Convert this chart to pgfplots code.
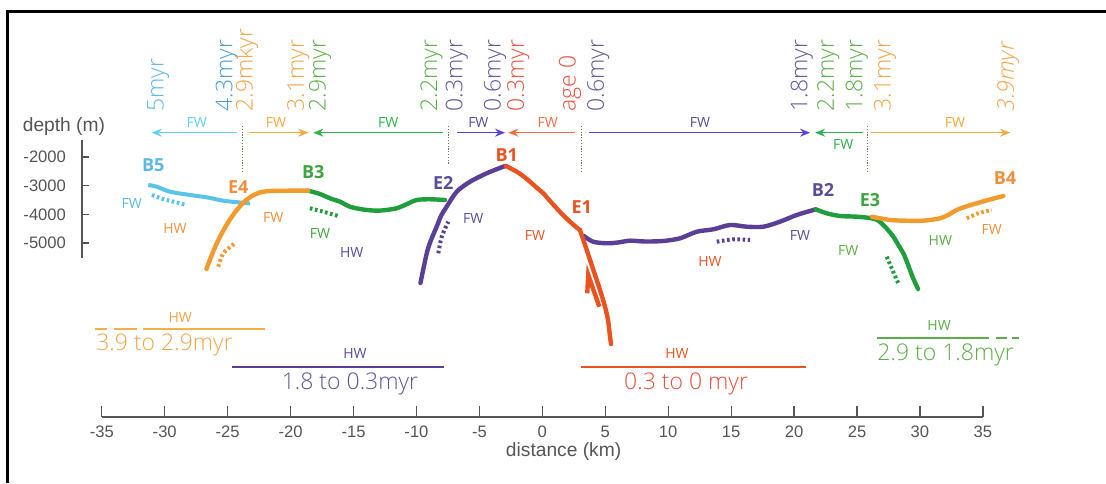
\documentclass[border=0pt]{standalone}
\usepackage{pgfplots}
\pgfplotsset{compat=1.18}
\usepackage{fontspec}
\setmainfont{Open Sans}
\newfontfamily\helv{Liberation Sans}
\IfFontExistsTF{Open Sans Light}{\newfontfamily\lt{Open Sans Light}}{\newfontfamily\lt{Open Sans}}
\usetikzlibrary{arrows.meta}
\definecolor{cLB}{HTML}{5BC2EA}
\definecolor{cLBt}{HTML}{5CB9E3}
\definecolor{cBlu}{HTML}{4B9CD3}
\definecolor{cOr}{HTML}{F39A2C}
\definecolor{cOrT}{HTML}{F2A446}
\definecolor{cOrL}{HTML}{F5B04A}
\definecolor{cOrB}{HTML}{F08F3A}
\definecolor{cGr}{HTML}{1F9E3B}
\definecolor{cGrT}{HTML}{5AAE47}
\definecolor{cGrB}{HTML}{3FA33F}
\definecolor{cPu}{HTML}{5A3F97}
\definecolor{cPuT}{HTML}{5F5599}
\definecolor{cPuB}{HTML}{5B4C9B}
\definecolor{cRe}{HTML}{E9531F}
\definecolor{cReT}{HTML}{E9503C}
\definecolor{aCy}{HTML}{62D0F2}
\definecolor{aOr}{HTML}{F7A93B}
\definecolor{aGr}{HTML}{2DB34B}
\definecolor{aPu}{HTML}{5B3FE3}
\definecolor{aRe}{HTML}{F36E40}
\definecolor{cDot}{HTML}{8C6E57}
\definecolor{cAx}{HTML}{555555}
\newcommand{\sm}{\fontsize{7}{8}\selectfont}
\newcommand{\bl}{\fontsize{9}{10}\selectfont\bfseries}
\newcommand{\rt}{\lt\fontsize{11.5}{13}\selectfont}
\begin{document}
\begin{tikzpicture}
\useasboundingbox (0,0) rectangle (553pt,241.5pt);
\begin{axis}[scale only axis, width=553pt, height=241.5pt,
  xmin=-43.04, xmax=44.82, ymin=-13371, ymax=3476, hide axis, clip=false,
  hatch/.style={line width=2pt, dash pattern=on 1.3pt off 1.3pt, smooth},
  prof/.style={line width=2.2pt, smooth, line cap=round},
  arr/.style={line width=0.7pt, -{Stealth[length=5pt,width=4pt]}},
  dotl/.style={cDot, line width=0.6pt, dash pattern=on 0.6pt off 0.8pt}]
% frame
\addplot[black, line width=1.5pt, line join=miter] coordinates {(-42.41,-13371) (-42.41,3092) (44.82,3092)};
% profiles
\addplot[cLB, line width=2pt, smooth] coordinates {(-31.26,-2977) (-30.59,-3036) (-29.54,-3210) (-27.95,-3325) (-26.62,-3406) (-25.30,-3524) (-23.84,-3594) (-23.18,-3622)};
\addplot[cPu, prof] coordinates {(-9.64,-6395) (-9.14,-5359) (-8.80,-4895) (-8.35,-4431) (-8.01,-4058) (-7.56,-3734) (-6.76,-3210) (-5.70,-2862) (-4.38,-2569) (-3.06,-2338) (-2.84,-2314)};
\addplot[cPu, prof] coordinates {(3.35,-4756) (4.07,-4954) (5.16,-5010) (6.05,-4982) (7.01,-4919) (8.20,-4947) (9.63,-4930) (10.98,-4836) (12.31,-4606) (13.63,-4522) (14.95,-4372) (16.28,-4431) (17.60,-4431) (18.92,-4257) (20.25,-4023) (21.57,-3849) (21.76,-3824)};
\addplot[cGr, prof] coordinates {(-18.55,-3175) (-17.62,-3291) (-16.83,-3441) (-16.03,-3559) (-15.24,-3734) (-14.21,-3831) (-13.12,-3873) (-12.38,-3849) (-11.53,-3789) (-10.79,-3657) (-9.94,-3500) (-8.88,-3475) (-7.69,-3500)};
\addplot[cOr, prof] coordinates {(-26.64,-5907) (-26.28,-5488) (-25.88,-5069) (-25.41,-4651) (-24.85,-4232) (-24.29,-3884) (-23.66,-3570) (-23.02,-3360) (-22.39,-3238) (-21.59,-3186) (-20.00,-3175) (-18.55,-3175)};
\addplot[cGr, prof] coordinates {(21.76,-3824) (22.63,-3964) (23.69,-4058) (25.02,-4082) (26.21,-4138) (26.71,-4215) (27.13,-4372) (27.50,-4546) (27.93,-4780) (28.30,-5052) (28.72,-5359) (29.01,-5662) (29.25,-5941) (29.49,-6220) (29.89,-6604)};
\addplot[cOr, prof] coordinates {(26.21,-4082) (27.66,-4197) (28.93,-4222) (30.31,-4222) (31.64,-4138) (32.27,-4023) (32.96,-3849) (33.70,-3727) (34.55,-3615) (35.61,-3482) (36.66,-3360)};
\addplot[cRe, prof] coordinates {(-2.84,-2314) (-1.99,-2513) (-1.49,-2663) (-0.94,-2862) (-0.38,-3081) (0.12,-3266) (0.65,-3535) (1.18,-3789) (1.68,-4023) (2.24,-4257) (2.72,-4442) (3.03,-4546)};
\addplot[cRe, prof] coordinates {(3.03,-4546) (3.57,-5244) (3.91,-5697) (4.36,-6290) (4.70,-6744) (5.02,-7221) (5.26,-7685) (5.42,-8268) (5.50,-8523)};
\addplot[cRe, line width=2.2pt, line join=miter] coordinates {(4.57,-7221) (3.69,-6116) (3.61,-6754)};
% hatches
\addplot[cLB, hatch] coordinates {(-30.97,-3325) (-30.09,-3465) (-29.14,-3570) (-28.27,-3674)};
\addplot[cOr, hatch] coordinates {(-25.70,-5826) (-25.30,-5359) (-24.37,-5010)};
\addplot[cGr, hatch] coordinates {(-18.42,-3789) (-17.36,-3908) (-16.17,-4058)};
\addplot[cPu, hatch] coordinates {(-8.22,-5359) (-7.95,-4780) (-7.43,-4257)};
\addplot[cPu, hatch] coordinates {(13.90,-4954) (15.21,-4871) (16.54,-4895)};
\addplot[cGr, hatch] coordinates {(27.40,-5478) (27.80,-5882) (28.32,-6405)};
\addplot[cOr, hatch] coordinates {(33.76,-4138) (34.68,-3964) (35.74,-3849)};
% top arrows
\addplot[aCy, arr] coordinates {(-24.24,-1152) (-30.99,-1152)};
\addplot[aOr, arr] coordinates {(-23.24,-1152) (-18.55,-1152)};
\addplot[aGr, arr] coordinates {(-7.83,-1152) (-18.15,-1152)};
\addplot[aPu, arr] coordinates {(-6.76,-1152) (-2.92,-1152)};
\addplot[aRe, arr] coordinates {(2.64,-1152) (-2.66,-1152)};
\addplot[aPu, arr] coordinates {(3.75,-1152) (21.31,-1152)};
\addplot[aGr, arr] coordinates {(25.54,-1152) (21.71,-1152)};
\addplot[aOr, arr] coordinates {(26.13,-1152) (37.20,-1152)};
% dotted verticals
\addplot[dotl] coordinates {(-23.79,-919) (-23.79,-2513)};
\addplot[dotl] coordinates {(-7.43,-919) (-7.43,-2279)};
\addplot[dotl] coordinates {(3.17,-919) (3.17,-2513)};
\addplot[dotl] coordinates {(25.86,-919) (25.86,-2513)};
% HW bars
\addplot[cOrL, line width=0.9pt] coordinates {(-31.68,-7999) (-21.99,-7999)};
\addplot[cOrL, line width=0.9pt] coordinates {(-35.53,-7999) (-34.54,-7999)};
\addplot[cOrL, line width=0.9pt] coordinates {(-33.96,-7999) (-32.12,-7999)};
\addplot[cPu, line width=0.9pt] coordinates {(-24.61,-9325) (-7.80,-9325)};
\addplot[cRe, line width=0.9pt] coordinates {(3.11,-9325) (20.99,-9325)};
\addplot[cGrT, line width=0.9pt] coordinates {(26.63,-8313) (35.53,-8313)};
\addplot[cGrT, line width=0.9pt] coordinates {(36.08,-8313) (36.96,-8313)};
\addplot[cGrT, line width=0.9pt] coordinates {(37.36,-8313) (37.91,-8313)};
% bold labels
\node[font=\bl, text=cLBt] at (-30.86,-2279) {B5};
\node[font=\bl, text=cOrB] at (-24.11,-3036) {E4};
\node[font=\bl, text=cGrB] at (-18.15,-2513) {B3};
\node[font=\bl, text=cPuB] at (-7.83,-2917) {E2};
\node[font=\bl, text=cRe] at (-2.79,-1930) {B1};
\node[font=\bl, text=cRe] at (3.17,-3734) {E1};
\node[font=\bl, text=cPuB] at (22.34,-3151) {B2};
\node[font=\bl, text=cGrB] at (26.07,-3500) {E3};
\node[font=\bl, text=cOrB] at (36.80,-2743) {B4};
% FW HW labels
\node[font=\sm, text=cLBt] at (-32.58,-3615) {FW};
\node[font=\sm, text=cOrB] at (-29.14,-4487) {HW};
\node[font=\sm, text=cOrB] at (-21.33,-4103) {FW};
\node[font=\sm, text=cGrB] at (-17.62,-4661) {FW};
\node[font=\sm, text=cPuB] at (-15.10,-5338) {HW};
\node[font=\sm, text=cPuB] at (-5.44,-4138) {FW};
\node[font=\sm, text=cRe] at (-0.54,-4721) {FW};
\node[font=\sm, text=cRe] at (13.36,-5652) {HW};
\node[font=\sm, text=cPuB] at (20.51,-4721) {FW};
\node[font=\sm, text=cGrT] at (24.35,-5244) {FW};
\node[font=\sm, text=cGrT] at (31.66,-4919) {HW};
\node[font=\sm, text=cOrB] at (35.74,-4546) {FW};
% FW above arrows
\node[font=\sm, text=aCy] at (-27.42,-814) {FW};
\node[font=\sm, text=aOr] at (-21.12,-814) {FW};
\node[font=\sm, text=aGr] at (-12.20,-814) {FW};
\node[font=\sm, text=cPuB] at (-5.04,-814) {FW};
\node[font=\sm, text=aRe] at (0.47,-814) {FW};
\node[font=\sm, text=cPuB] at (12.57,-814) {FW};
\node[font=\sm, text=aGr] at (23.95,-1547) {FW};
\node[font=\sm, text=aOr] at (32.83,-814) {FW};
% rotated ages
\begin{scope}[every node/.style={rotate=90, anchor=west, inner sep=0pt, font=\rt}]
\node[text=cLBt] at (-30.47,-430) {5myr};
\node[text=cBlu] at (-25.03,-430) {4.3myr};
\node[text=cOrT] at (-23.44,-430) {2.9mkyr};
\node[text=cOrT] at (-19.35,-430) {3.1myr};
\node[text=cGrT] at (-17.62,-430) {2.9myr};
\node[text=cGrT] at (-8.75,-430) {2.2myr};
\node[text=cPuT] at (-6.76,-430) {0.3myr};
\node[text=cPuT] at (-3.72,-430) {0.6myr};
\node[text=cReT] at (-1.87,-430) {0.3myr};
\node[text=cReT] at (2.24,-430) {age 0};
\node[text=cPuT] at (4.49,-430) {0.6myr};
\node[text=cPuT] at (20.65,-430) {1.8myr};
\node[text=cGrT] at (22.76,-430) {2.2myr};
\node[text=cGrT] at (25.02,-430) {1.8myr};
\node[text=cOrT] at (27.27,-430) {3.1myr};
\node[text=cOrT, font=\rt\itshape] at (37.06,-430) {3.9myr};
\end{scope}
% bottom range texts
\node[font=\sm, text=cOrT] at (-28.72,-7581) {HW};
\node[font=\rt, text=cOrT, anchor=west, inner sep=0pt] at (-35.42,-8557) {3.9 to 2.9myr};
\node[font=\sm, text=cPuB] at (-14.84,-8871) {HW};
\node[font=\rt, text=cPuT] at (-15.24,-9918) {1.8 to 0.3myr};
\node[font=\sm, text=cRe] at (10.74,-8871) {HW};
\node[font=\rt, text=cReT] at (11.46,-9918) {0.3 to 0 myr};
\node[font=\sm, text=cGrT] at (31.56,-7860) {HW};
\node[font=\rt, text=cGrT, anchor=west, inner sep=0pt] at (26.63,-8906) {2.9 to 1.8myr};
% axis titles
\node[font=\helv\fontsize{9.6}{11}\selectfont, text=cAx] at (-37.96,-954) {depth (m)};
\node[font=\helv\fontsize{9.6}{11}\selectfont, text=cAx] at (1.73,-12290) {distance (km)};
\end{axis}
% depth axis
\begin{axis}[scale only axis, at={(41pt,112.5pt)}, anchor=south west, width=20pt, height=59pt,
  xmin=0, xmax=1, ymin=-5523, ymax=-1407, axis y line=left, axis x line=none, xtick=\empty,
  ytick={-5000,-4000,-3000,-2000}, tick align=inside, major tick length=3.5pt,
  axis line style={-, draw=cAx, line width=0.6pt}, tick style={draw=cAx, line width=0.6pt},
  yticklabel style={font=\helv\fontsize{8.3}{10}\selectfont, text=cAx, xshift=-4.5pt},
  /pgf/number format/assume math mode=true, /pgf/number format/1000 sep={}]
\end{axis}
% distance axis
\begin{axis}[scale only axis, at={(50.9pt,33pt)}, anchor=south west, width=440.55pt, height=20pt,
  xmin=-35, xmax=35, ymin=0, ymax=1, axis x line=bottom, axis y line=none, ytick=\empty,
  xtick={-35,-30,...,35}, tick align=inside, major tick length=5.35pt,
  axis line style={-, draw=cAx, line width=0.6pt}, tick style={draw=cAx, line width=0.6pt},
  xticklabel style={font=\helv\fontsize{8.3}{10}\selectfont, text=cAx, yshift=-1pt},
  /pgf/number format/assume math mode=true]
\end{axis}
\end{tikzpicture}
\end{document}
